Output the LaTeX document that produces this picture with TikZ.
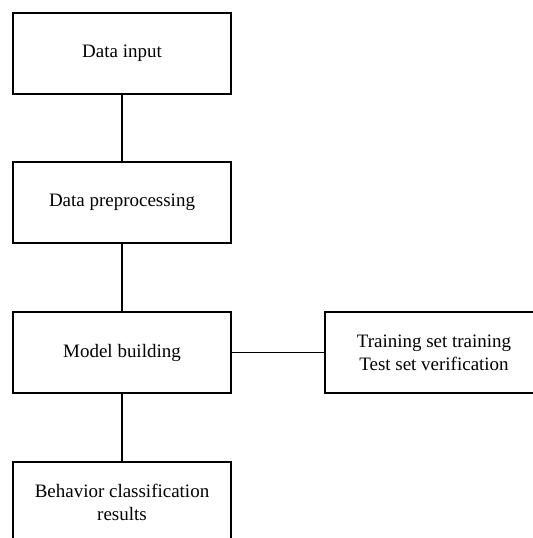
\documentclass[tikz,border=0pt]{standalone}
\usepackage{fontspec}
\setmainfont{Liberation Serif}
\usepackage{xcolor}
\usetikzlibrary{arrows.meta}

\tikzset{
  stepbox/.style={draw,line width=0.7pt,minimum width=4.36cm,minimum height=1.62cm,
    inner sep=0pt,outer sep=0pt,align=center,font=\fontsize{10.8}{13}\selectfont},
  link/.style={line width=0.7pt}
}

\begin{document}
\begin{tikzpicture}
					\useasboundingbox (0,0) rectangle (10.64,-10.76);
					\node[stepbox] (input) at (2.44,-1.07) {Data input};
					\node[stepbox] (prep) at (2.44,-4.05) {Data preprocessing};
					\node[stepbox] (model) at (2.44,-7.05) {Model building};
					\node[stepbox] (result) at (2.44,-10.05) {Behavior classification\\results};
					\node[stepbox] (train) at (8.68,-7.05) {Training set training\\Test set verification};
					\draw[link] (input) -- (prep);
					\draw[link] (prep) -- (model);
					\draw[link] (model) -- (result);
					\draw[link] (model) -- (train);
				\end{tikzpicture}
\end{document}
